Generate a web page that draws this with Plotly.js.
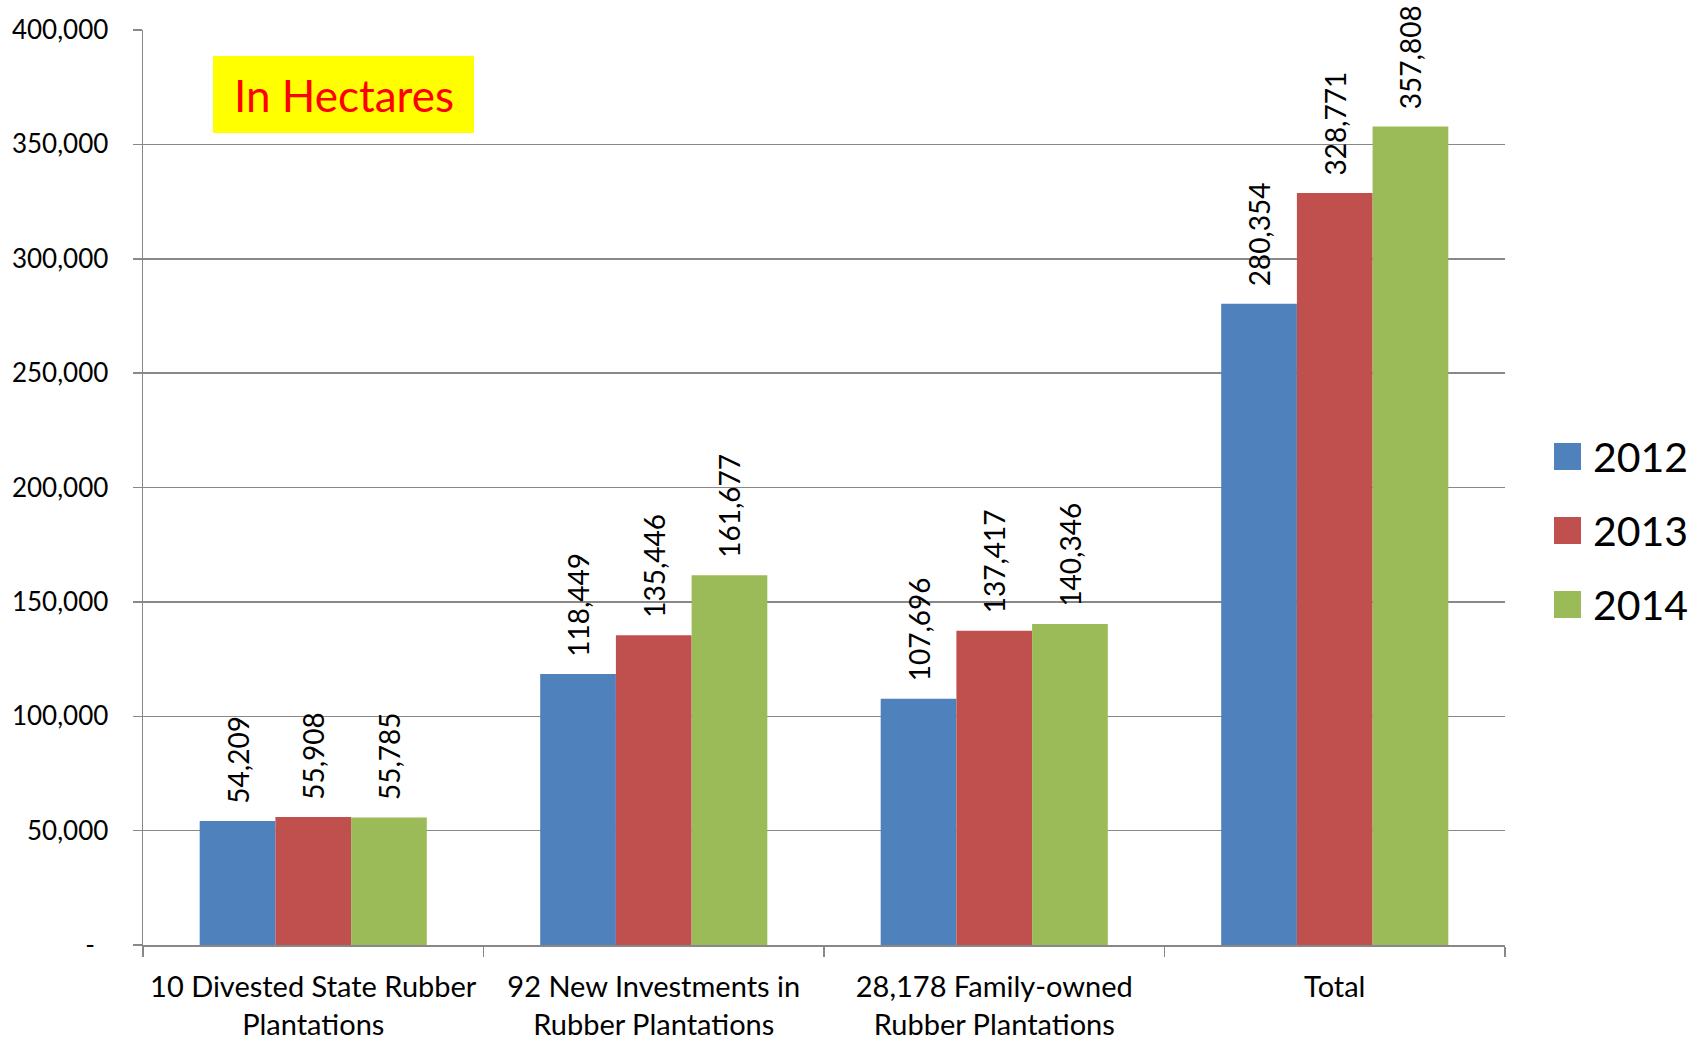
<!DOCTYPE html>
<html>
<head>
<meta charset="utf-8">
<script src="https://cdn.plot.ly/plotly-3.0.1.min.js"></script>
<style>
  html, body { margin: 0; padding: 0; background: #ffffff; }
  #chart { width: 1705px; height: 1041px; }
</style>
</head>
<body>
<div id="chart"></div>
<script>
// ---- data ----
const categories = [
  "10 Divested State Rubber<br>Plantations",
  "92 New Investments in<br>Rubber Plantations",
  "28,178 Family-owned<br>Rubber Plantations",
  "Total"
];
const years = ["2012", "2013", "2014"];
const values2012 = [54209, 118449, 107696, 280354];
const values2013 = [55908, 135446, 137417, 328771];
const values2014 = [55785, 161677, 140346, 357808];
const seriesColors = ["#4F81BD", "#C0504D", "#9BBB59"];
const yTickVals = [0, 50000, 100000, 150000, 200000, 250000, 300000, 350000, 400000];
const yTickText = ["-\u00a0\u00a0", "50,000", "100,000", "150,000", "200,000", "250,000", "300,000", "350,000", "400,000"];
const noteText = "In Hectares";

// ---- chart ----
const FONT = "Lato, 'Open Sans', 'DejaVu Sans', sans-serif";
const GRID = "#888888";
const seriesValues = [values2012, values2013, values2014];

const traces = years.map((yr, i) => ({
  type: "bar",
  name: yr,
  x: categories,
  y: seriesValues[i],
  marker: { color: seriesColors[i], line: { width: 0 } },
  texttemplate: "\u00a0\u00a0%{y:,.0f}",
  textposition: "outside",
  textangle: -90,
  constraintext: "none",
  cliponaxis: false,
  textfont: { family: FONT, size: 28, color: "#000000" },
  hoverinfo: "x+y+name",
  showlegend: false
}));

// plot area geometry (pixels) used for paper-coordinate conversions
const L = 143, R = 200, T = 30, B = 96, W = 1705, H = 1041;
const pw = W - L - R, ph = H - T - B;
const px = v => (v - L) / pw;
const py = v => (H - B - v) / ph;

const shapes = [];
const annotations = [];

// "In Hectares" box
shapes.push({
  type: "rect", xref: "paper", yref: "paper",
  x0: px(213), x1: px(474), y0: py(133), y1: py(56),
  fillcolor: "#FFFF00", line: { width: 0 }, layer: "above"
});
annotations.push({
  xref: "paper", yref: "paper",
  x: px(343.5), y: py(95), xanchor: "center", yanchor: "middle",
  text: noteText, showarrow: false,
  font: { family: FONT, size: 44, color: "#FF0000" }
});

// legend (drawn manually for large swatches)
years.forEach((yr, i) => {
  const top = 443 + i * 74;
  shapes.push({
    type: "rect", xref: "paper", yref: "paper",
    x0: px(1554), x1: px(1581), y0: py(top + 27), y1: py(top),
    fillcolor: seriesColors[i], line: { width: 0 }
  });
  annotations.push({
    xref: "paper", yref: "paper",
    x: px(1591), y: py(top + 13), xanchor: "left", yanchor: "middle",
    text: yr, showarrow: false,
    font: { family: FONT, size: 41, color: "#000000" }
  });
});

const layout = {
  width: W, height: H, autosize: false,
  margin: { l: L, r: R, t: T, b: B, pad: 0 },
  paper_bgcolor: "#ffffff", plot_bgcolor: "#ffffff",
  font: { family: FONT, color: "#000000" },
  barmode: "group",
  bargap: 0.333,
  bargroupgap: 0,
  showlegend: false,
  xaxis: {
    type: "category",
    tickson: "boundaries",
    ticks: "outside", ticklen: 10, tickwidth: 1.5, tickcolor: GRID,
    showline: true, linecolor: GRID, linewidth: 1.5,
    showgrid: false, zeroline: false,
    tickfont: { family: FONT, size: 29, color: "#000000" },
    ticklabelstandoff: 16,
    fixedrange: true
  },
  yaxis: {
    range: [0, 400000],
    tickmode: "array", tickvals: yTickVals, ticktext: yTickText,
    ticks: "outside", ticklen: 9, tickwidth: 1.5, tickcolor: GRID,
    showline: true, linecolor: GRID, linewidth: 1.5,
    showgrid: true, gridcolor: GRID, gridwidth: 1.5,
    zeroline: false,
    tickfont: { family: FONT, size: 26, color: "#000000" },
    ticklabelstandoff: 19,
    fixedrange: true
  },
  shapes: shapes,
  annotations: annotations
};

Plotly.newPlot("chart", traces, layout, { displayModeBar: false, staticPlot: true });
</script>
</body>
</html>
